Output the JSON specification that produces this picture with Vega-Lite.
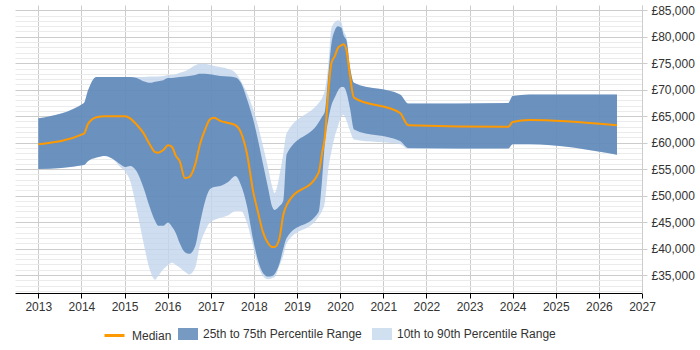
{
  "$schema": "https://vega.github.io/schema/vega-lite/v6.json",
  "width": 627,
  "height": 288,
  "padding": {"left": 15, "top": 4, "right": 0, "bottom": 0},
  "autosize": {"type": "pad"},
  "background": "white",
  "config": {"font": "Liberation Sans", "view": {"stroke": null}, "axis": {"labelOverlap": false}},
  "data": {"values": [
    {"year": 2013.00, "p10": 55000, "p25": 55000, "p50": 59700, "p75": 64600, "p90": 64600},
    {"year": 2014.06, "p10": 55800, "p25": 55800, "p50": 61700, "p75": 67500, "p90": 67500},
    {"year": 2014.15, "p10": 56500, "p25": 56500, "p50": 63500, "p75": 69800, "p90": 69800},
    {"year": 2014.35, "p10": 57200, "p25": 57200, "p50": 64800, "p75": 72400, "p90": 72400},
    {"year": 2014.55, "p10": 57500, "p25": 57500, "p50": 65000, "p75": 72400, "p90": 72400},
    {"year": 2014.73, "p10": 56900, "p25": 56900, "p50": 65000, "p75": 72400, "p90": 72400},
    {"year": 2014.90, "p10": 55400, "p25": 55900, "p50": 65000, "p75": 72400, "p90": 72400},
    {"year": 2015.01, "p10": 54600, "p25": 55400, "p50": 65000, "p75": 72400, "p90": 72400},
    {"year": 2015.13, "p10": 52800, "p25": 55600, "p50": 64600, "p75": 72400, "p90": 72400},
    {"year": 2015.28, "p10": 47500, "p25": 54600, "p50": 63400, "p75": 72200, "p90": 72400},
    {"year": 2015.44, "p10": 41100, "p25": 51500, "p50": 61800, "p75": 71600, "p90": 72400},
    {"year": 2015.59, "p10": 35900, "p25": 47700, "p50": 59600, "p75": 71300, "p90": 72500},
    {"year": 2015.71, "p10": 34100, "p25": 45200, "p50": 58200, "p75": 71500, "p90": 72500},
    {"year": 2015.78, "p10": 34800, "p25": 44300, "p50": 58100, "p75": 71600, "p90": 72500},
    {"year": 2015.90, "p10": 36100, "p25": 44300, "p50": 58600, "p75": 71800, "p90": 72600},
    {"year": 2016.01, "p10": 36900, "p25": 44900, "p50": 59500, "p75": 72200, "p90": 72800},
    {"year": 2016.10, "p10": 37300, "p25": 44100, "p50": 59200, "p75": 72200, "p90": 72800},
    {"year": 2016.19, "p10": 36900, "p25": 42900, "p50": 57500, "p75": 72300, "p90": 72900},
    {"year": 2016.28, "p10": 36400, "p25": 41000, "p50": 56500, "p75": 72400, "p90": 73200},
    {"year": 2016.40, "p10": 35600, "p25": 39300, "p50": 53300, "p75": 72500, "p90": 73500},
    {"year": 2016.50, "p10": 35100, "p25": 39000, "p50": 53500, "p75": 72600, "p90": 73900},
    {"year": 2016.64, "p10": 36400, "p25": 40500, "p50": 55900, "p75": 72800, "p90": 74600},
    {"year": 2016.75, "p10": 40700, "p25": 44800, "p50": 59700, "p75": 73000, "p90": 74900},
    {"year": 2016.87, "p10": 43300, "p25": 49000, "p50": 62500, "p75": 73000, "p90": 74900},
    {"year": 2016.98, "p10": 44900, "p25": 51200, "p50": 64400, "p75": 72900, "p90": 74700},
    {"year": 2017.08, "p10": 45400, "p25": 51600, "p50": 64700, "p75": 72800, "p90": 74500},
    {"year": 2017.22, "p10": 45800, "p25": 51800, "p50": 64100, "p75": 72600, "p90": 74300},
    {"year": 2017.41, "p10": 46300, "p25": 52600, "p50": 63700, "p75": 72500, "p90": 73900},
    {"year": 2017.57, "p10": 47100, "p25": 53700, "p50": 63300, "p75": 72300, "p90": 73200},
    {"year": 2017.70, "p10": 47100, "p25": 52000, "p50": 61900, "p75": 71300, "p90": 71600},
    {"year": 2017.84, "p10": 44800, "p25": 48000, "p50": 57900, "p75": 68200, "p90": 69400},
    {"year": 2017.98, "p10": 40500, "p25": 41800, "p50": 50900, "p75": 64500, "p90": 66400},
    {"year": 2018.10, "p10": 36700, "p25": 37600, "p50": 46700, "p75": 60300, "p90": 63100},
    {"year": 2018.21, "p10": 34800, "p25": 35400, "p50": 43100, "p75": 56000, "p90": 59400},
    {"year": 2018.33, "p10": 34200, "p25": 34700, "p50": 41000, "p75": 51400, "p90": 55200},
    {"year": 2018.42, "p10": 34400, "p25": 34800, "p50": 40300, "p75": 48000, "p90": 51800},
    {"year": 2018.48, "p10": 34600, "p25": 35200, "p50": 40300, "p75": 47300, "p90": 50500},
    {"year": 2018.59, "p10": 36700, "p25": 37100, "p50": 41800, "p75": 48000, "p90": 53700},
    {"year": 2018.68, "p10": 38600, "p25": 39900, "p50": 46300, "p75": 49000, "p90": 57800},
    {"year": 2018.76, "p10": 41000, "p25": 42000, "p50": 48200, "p75": 57800, "p90": 61800},
    {"year": 2019.50, "p10": 46000, "p25": 46900, "p50": 54300, "p75": 63800, "p90": 67500},
    {"year": 2019.58, "p10": 47100, "p25": 52800, "p50": 58000, "p75": 64900, "p90": 68400},
    {"year": 2019.65, "p10": 49000, "p25": 60300, "p50": 61400, "p75": 66000, "p90": 70100},
    {"year": 2019.72, "p10": 54600, "p25": 64100, "p50": 69100, "p75": 72200, "p90": 74200},
    {"year": 2019.80, "p10": 58400, "p25": 67100, "p50": 75100, "p75": 78800, "p90": 81700},
    {"year": 2019.88, "p10": 61300, "p25": 68600, "p50": 76400, "p75": 81300, "p90": 82800},
    {"year": 2019.95, "p10": 63100, "p25": 69800, "p50": 77900, "p75": 82000, "p90": 83100},
    {"year": 2020.03, "p10": 65000, "p25": 70500, "p50": 78400, "p75": 81700, "p90": 82700},
    {"year": 2020.08, "p10": 65200, "p25": 70500, "p50": 78600, "p75": 80300, "p90": 81100},
    {"year": 2020.15, "p10": 64100, "p25": 69400, "p50": 77300, "p75": 79200, "p90": 79800},
    {"year": 2020.23, "p10": 62200, "p25": 66400, "p50": 72500, "p75": 74200, "p90": 74200},
    {"year": 2020.32, "p10": 60600, "p25": 62500, "p50": 68500, "p75": 71300, "p90": 71300},
    {"year": 2021.39, "p10": 59700, "p25": 60300, "p50": 65600, "p75": 69100, "p90": 69100},
    {"year": 2021.58, "p10": 58800, "p25": 59000, "p50": 63300, "p75": 67400, "p90": 67400},
    {"year": 2023.90, "p10": 58900, "p25": 58900, "p50": 63000, "p75": 67500, "p90": 67500},
    {"year": 2024.00, "p10": 59700, "p25": 59700, "p50": 63900, "p75": 68800, "p90": 68800},
    {"year": 2024.39, "p10": 59700, "p25": 59700, "p50": 64300, "p75": 69100, "p90": 69100},
    {"year": 2026.42, "p10": 57700, "p25": 57700, "p50": 63300, "p75": 69100, "p90": 69100}
  ]},
  "layer": [
    {
      "mark": {"type": "area", "opacity": 0.8, "interpolate": "monotone"},
      "encoding": {
        "x": {
          "field": "year", "type": "quantitative",
          "scale": {"domain": [2012.46, 2027], "nice": false, "zero": false},
          "axis": {
            "values": [2013, 2014, 2015, 2016, 2017, 2018, 2019, 2020, 2021, 2022, 2023, 2024, 2025, 2026, 2027],
            "format": "d", "title": null, "grid": true, "gridColor": "#cccccc",
            "domainColor": "#000000", "tickColor": "#000000", "tickSize": 5,
            "labelFontSize": 12, "labelColor": "#333333", "labelPadding": 3, "labelFlush": false
          }
        },
        "y": {
          "field": "p10", "type": "quantitative",
          "scale": {"domain": [31600, 86000], "nice": false, "zero": false},
          "axis": {
            "orient": "right", "title": null,
            "values": [32000, 33000, 34000, 35000, 36000, 37000, 38000, 39000, 40000, 41000, 42000, 43000, 44000, 45000, 46000, 47000, 48000, 49000, 50000, 51000, 52000, 53000, 54000, 55000, 56000, 57000, 58000, 59000, 60000, 61000, 62000, 63000, 64000, 65000, 66000, 67000, 68000, 69000, 70000, 71000, 72000, 73000, 74000, 75000, 76000, 77000, 78000, 79000, 80000, 81000, 82000, 83000, 84000, 85000],
            "labelOverlap": false,
            "labelExpr": "datum.value % 5000 === 0 ? '£' + format(datum.value, ',') : ''",
            "gridColor": {"condition": {"test": "datum.value % 5000 === 0", "value": "#cccccc"}, "value": "#ebebeb"},
            "tickColor": {"condition": {"test": "datum.value % 5000 === 0", "value": "#cccccc"}, "value": "transparent"},
            "tickSize": 5, "domainColor": "#cccccc",
            "labelFontSize": 12, "labelColor": "#333333", "labelPadding": 4
          }
        },
        "y2": {"field": "p90"},
        "fill": {
          "datum": "10th to 90th Percentile Range",
          "scale": {"domain": ["25th to 75th Percentile Range", "10th to 90th Percentile Range"], "range": ["#4a78ae", "#c2d6ec"]},
          "legend": {
            "orient": "none", "legendX": 163, "legendY": 319, "direction": "horizontal", "title": null,
            "labelFontSize": 12, "labelColor": "#333333", "symbolSize": 400,
            "symbolType": "M-1,-0.6H1V0.6H-1Z", "symbolOpacity": 0.75, "symbolStrokeWidth": 0,
            "columnPadding": 10, "labelOffset": 5
          }
        }
      }
    },
    {
      "mark": {"type": "area", "opacity": 0.75, "interpolate": "monotone"},
      "encoding": {
        "x": {"field": "year", "type": "quantitative"},
        "y": {
          "field": "p25", "type": "quantitative",
          "axis": {
            "orient": "right", "title": null,
            "values": [32000, 33000, 34000, 35000, 36000, 37000, 38000, 39000, 40000, 41000, 42000, 43000, 44000, 45000, 46000, 47000, 48000, 49000, 50000, 51000, 52000, 53000, 54000, 55000, 56000, 57000, 58000, 59000, 60000, 61000, 62000, 63000, 64000, 65000, 66000, 67000, 68000, 69000, 70000, 71000, 72000, 73000, 74000, 75000, 76000, 77000, 78000, 79000, 80000, 81000, 82000, 83000, 84000, 85000],
            "labelOverlap": false,
            "labelExpr": "datum.value % 5000 === 0 ? '£' + format(datum.value, ',') : ''",
            "gridColor": {"condition": {"test": "datum.value % 5000 === 0", "value": "#cccccc"}, "value": "#ebebeb"},
            "tickColor": {"condition": {"test": "datum.value % 5000 === 0", "value": "#cccccc"}, "value": "transparent"},
            "tickSize": 5, "domainColor": "#cccccc",
            "labelFontSize": 12, "labelColor": "#333333", "labelPadding": 4
          }
        },
        "y2": {"field": "p75"},
        "fill": {"datum": "25th to 75th Percentile Range"}
      }
    },
    {
      "mark": {"type": "line", "strokeWidth": 2, "interpolate": "monotone"},
      "encoding": {
        "x": {"field": "year", "type": "quantitative"},
        "y": {
          "field": "p50", "type": "quantitative",
          "axis": {
            "orient": "right", "title": null,
            "values": [32000, 33000, 34000, 35000, 36000, 37000, 38000, 39000, 40000, 41000, 42000, 43000, 44000, 45000, 46000, 47000, 48000, 49000, 50000, 51000, 52000, 53000, 54000, 55000, 56000, 57000, 58000, 59000, 60000, 61000, 62000, 63000, 64000, 65000, 66000, 67000, 68000, 69000, 70000, 71000, 72000, 73000, 74000, 75000, 76000, 77000, 78000, 79000, 80000, 81000, 82000, 83000, 84000, 85000],
            "labelOverlap": false,
            "labelExpr": "datum.value % 5000 === 0 ? '£' + format(datum.value, ',') : ''",
            "gridColor": {"condition": {"test": "datum.value % 5000 === 0", "value": "#cccccc"}, "value": "#ebebeb"},
            "tickColor": {"condition": {"test": "datum.value % 5000 === 0", "value": "#cccccc"}, "value": "transparent"},
            "tickSize": 5, "domainColor": "#cccccc",
            "labelFontSize": 12, "labelColor": "#333333", "labelPadding": 4
          }
        },
        "stroke": {
          "datum": "Median",
          "scale": {"domain": ["Median"], "range": ["#ff9900"]},
          "legend": {
            "orient": "none", "legendX": 88, "legendY": 319, "direction": "horizontal", "title": null,
            "labelFontSize": 12, "labelColor": "#333333", "symbolSize": 400,
            "symbolType": "stroke", "symbolStrokeWidth": 3, "labelOffset": 6
          }
        }
      }
    }
  ]
}
